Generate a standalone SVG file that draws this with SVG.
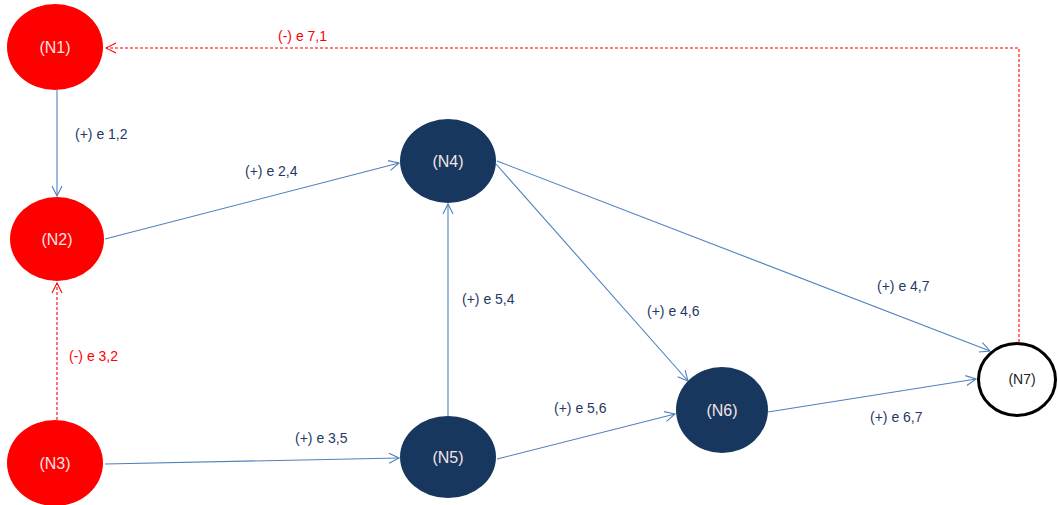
<svg xmlns="http://www.w3.org/2000/svg" width="1058" height="505" viewBox="0 0 1058 505">
  <style>
    .red { fill: #ff0000; }
    .navy { fill: #17375e; }
    .open { fill: #ffffff; stroke: #000000; stroke-width: 3; }
    .nlabel { font-family: "Liberation Sans", Arial, sans-serif; font-size: 16px; fill: #f4e4e4; text-anchor: middle; }
    .nlabel.dark { fill: #222222; font-size: 14px; }
    .pos { fill: none; stroke: #4f81bd; stroke-width: 1.1; marker-end: url(#arrowBlue); }
    .neg { fill: none; stroke: #ff0000; stroke-width: 1.1; stroke-dasharray: 3 2; marker-end: url(#arrowRed); }
    .elabel { font-family: "Liberation Sans", Arial, sans-serif; font-size: 14px; fill: #1f3864; }
    .elabel.negl { fill: #ff0000; }
  </style>
  <defs>
    <marker id="arrowBlue" viewBox="0 0 12 12" refX="11" refY="6" markerWidth="12" markerHeight="12" markerUnits="userSpaceOnUse" orient="auto">
      <path d="M1 1 L11 6 L1 11" fill="none" stroke="#4f81bd" stroke-width="1.1"/>
    </marker>
    <marker id="arrowRed" viewBox="0 0 12 12" refX="11" refY="6" markerWidth="12" markerHeight="12" markerUnits="userSpaceOnUse" orient="auto">
      <path d="M1 1 L11 6 L1 11" fill="none" stroke="#ff0000" stroke-width="1.1"/>
    </marker>
  </defs>

  <g id="connectors">
    <line class="pos" x1="57" y1="90" x2="57" y2="196"/>
    <line class="pos" x1="105" y1="239" x2="399" y2="163"/>
    <line class="neg" x1="57" y1="420" x2="57" y2="283"/>
    <line class="pos" x1="105" y1="464" x2="399" y2="458"/>
    <line class="pos" x1="448" y1="416" x2="448" y2="204"/>
    <line class="pos" x1="496" y1="164" x2="688" y2="381"/>
    <line class="pos" x1="497" y1="161" x2="990" y2="351"/>
    <line class="pos" x1="497" y1="459" x2="675" y2="414"/>
    <line class="pos" x1="768" y1="412" x2="976" y2="379"/>
    <polyline class="neg" points="1019,342 1019,48 106,48"/>

    <text class="elabel negl" x="278" y="41">(-) e 7,1</text>
    <text class="elabel" x="75" y="139">(+) e 1,2</text>
    <text class="elabel" x="245" y="176">(+) e 2,4</text>
    <text class="elabel negl" x="69" y="361">(-) e 3,2</text>
    <text class="elabel" x="295" y="443">(+) e 3,5</text>
    <text class="elabel" x="462" y="304">(+) e 5,4</text>
    <text class="elabel" x="554" y="413">(+) e 5,6</text>
    <text class="elabel" x="647" y="316">(+) e 4,6</text>
    <text class="elabel" x="877" y="291">(+) e 4,7</text>
    <text class="elabel" x="870" y="422">(+) e 6,7</text>
  </g>

  <g id="N1">
    <ellipse class="red" cx="55" cy="47" rx="48" ry="43"/>
    <text class="nlabel" x="55" y="53">(N1)</text>
  </g>
  <g id="N2">
    <ellipse class="red" cx="57" cy="239" rx="47" ry="42"/>
    <text class="nlabel" x="57" y="245">(N2)</text>
  </g>
  <g id="N3">
    <ellipse class="red" cx="55" cy="463" rx="48" ry="43"/>
    <text class="nlabel" x="55" y="469">(N3)</text>
  </g>
  <g id="N4">
    <ellipse class="navy" cx="448" cy="161" rx="48" ry="42"/>
    <text class="nlabel" x="448" y="167">(N4)</text>
  </g>
  <g id="N5">
    <ellipse class="navy" cx="448" cy="457" rx="48" ry="41"/>
    <text class="nlabel" x="448" y="463">(N5)</text>
  </g>
  <g id="N6">
    <ellipse class="navy" cx="722" cy="410" rx="46" ry="43"/>
    <text class="nlabel" x="722" y="416">(N6)</text>
  </g>
  <g id="N7">
    <ellipse class="open" cx="1017" cy="379.5" rx="38.5" ry="36"/>
    <text class="nlabel dark" x="1022" y="384">(N7)</text>
  </g>
</svg>
